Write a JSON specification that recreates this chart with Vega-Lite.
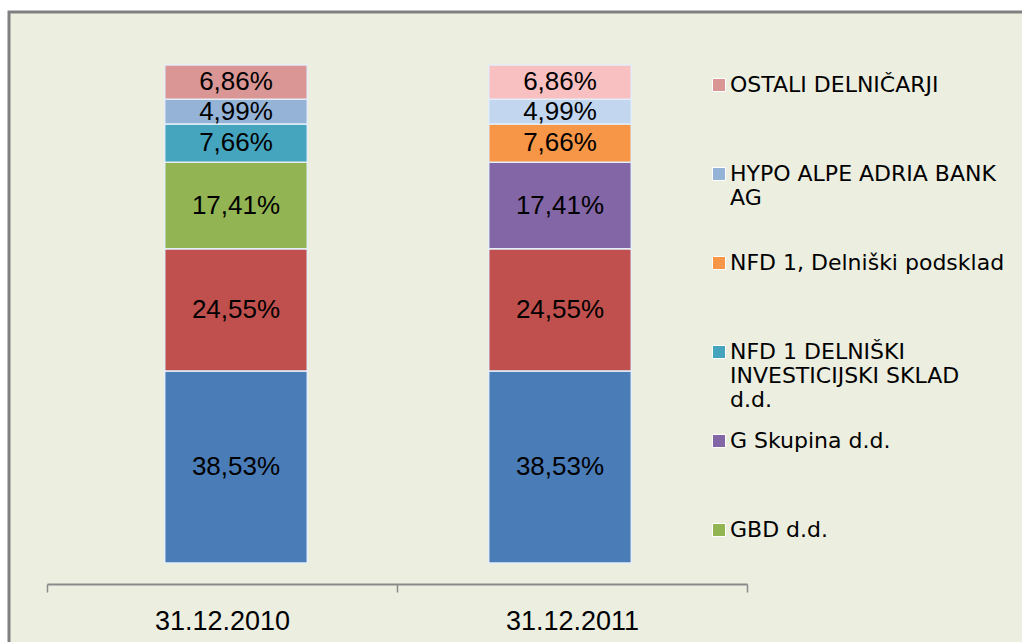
{
  "$schema": "https://vega.github.io/schema/vega-lite/v6.json",
  "width": 1020,
  "height": 640,
  "autosize": "none",
  "padding": {"left": 9, "top": 12, "right": 0, "bottom": 0},
  "background": "white",
  "config": {
    "view": {"fill": "#ECEEE0", "stroke": "#808080", "strokeWidth": 3}
  },
  "data": {
    "values": [
      {"datum": "31.12.2010", "delnicar": "Delničar A", "barva": "Delničar A", "delez": 38.53, "oznaka": "38,53%", "red": 1},
      {"datum": "31.12.2010", "delnicar": "Delničar B", "barva": "Delničar B", "delez": 24.55, "oznaka": "24,55%", "red": 2},
      {"datum": "31.12.2010", "delnicar": "GBD d.d.", "barva": "GBD d.d.", "delez": 17.41, "oznaka": "17,41%", "red": 3},
      {"datum": "31.12.2010", "delnicar": "NFD 1 DELNIŠKI INVESTICIJSKI SKLAD d.d.", "barva": "NFD 1 DELNIŠKI INVESTICIJSKI SKLAD d.d.", "delez": 7.66, "oznaka": "7,66%", "red": 4},
      {"datum": "31.12.2010", "delnicar": "HYPO ALPE ADRIA BANK AG", "barva": "HYPO ALPE ADRIA BANK AG", "delez": 4.99, "oznaka": "4,99%", "red": 5},
      {"datum": "31.12.2010", "delnicar": "OSTALI DELNIČARJI", "barva": "OSTALI DELNIČARJI", "delez": 6.86, "oznaka": "6,86%", "red": 6},
      {"datum": "31.12.2011", "delnicar": "Delničar A", "barva": "Delničar A", "delez": 38.53, "oznaka": "38,53%", "red": 1},
      {"datum": "31.12.2011", "delnicar": "Delničar B", "barva": "Delničar B", "delez": 24.55, "oznaka": "24,55%", "red": 2},
      {"datum": "31.12.2011", "delnicar": "G Skupina d.d.", "barva": "G Skupina d.d.", "delez": 17.41, "oznaka": "17,41%", "red": 3},
      {"datum": "31.12.2011", "delnicar": "NFD 1, Delniški podsklad", "barva": "NFD 1, Delniški podsklad", "delez": 7.66, "oznaka": "7,66%", "red": 4},
      {"datum": "31.12.2011", "delnicar": "HYPO ALPE ADRIA BANK AG", "barva": "HYPO ALPE ADRIA BANK AG 2011", "delez": 4.99, "oznaka": "4,99%", "red": 5},
      {"datum": "31.12.2011", "delnicar": "OSTALI DELNIČARJI", "barva": "OSTALI DELNIČARJI 2011", "delez": 6.86, "oznaka": "6,86%", "red": 6}
    ]
  },
  "layer": [
    {
      "encoding": {
        "x": {
          "field": "datum",
          "type": "nominal",
          "scale": {"range": [65, 713], "paddingInner": 0, "paddingOuter": 0},
          "axis": null
        },
        "y": {
          "field": "delez",
          "type": "quantitative",
          "stack": "zero",
          "scale": {"domain": [0, 100], "range": [551, 53], "nice": false},
          "axis": null
        },
        "order": {"field": "red", "type": "quantitative"}
      },
      "layer": [
        {
          "mark": {"type": "bar", "width": {"band": 0.44}, "stroke": "#E4EEF8", "strokeWidth": 1.5},
          "encoding": {
            "color": {
              "field": "barva",
              "type": "nominal",
              "scale": {
                "domain": ["Delničar A", "Delničar B", "GBD d.d.", "G Skupina d.d.", "NFD 1 DELNIŠKI INVESTICIJSKI SKLAD d.d.", "NFD 1, Delniški podsklad", "HYPO ALPE ADRIA BANK AG", "HYPO ALPE ADRIA BANK AG 2011", "OSTALI DELNIČARJI", "OSTALI DELNIČARJI 2011"],
                "range": ["#4A7CB8", "#C0504D", "#92B452", "#8366A6", "#45A4BE", "#F79646", "#95B3D7", "#C3D6F0", "#D99694", "#F8C0C0"]
              },
              "legend": {
                "title": null,
                "values": ["OSTALI DELNIČARJI", "HYPO ALPE ADRIA BANK AG", "NFD 1, Delniški podsklad", "NFD 1 DELNIŠKI INVESTICIJSKI SKLAD d.d.", "G Skupina d.d.", "GBD d.d."],
                "orient": "none",
                "legendX": 699,
                "legendY": 62,
                "padding": 0,
                "gridAlign": "all",
                "symbolType": "square",
                "symbolSize": 169,
                "symbolStrokeColor": "white",
                "symbolStrokeWidth": 1,
                "labelFont": "DejaVu Sans",
                "labelFontSize": 22,
                "labelColor": "black",
                "labelOffset": 0,
                "labelLimit": 400,
                "rowPadding": 19,
                "labelExpr": "datum.label == 'HYPO ALPE ADRIA BANK AG' ? ['HYPO ALPE ADRIA BANK', 'AG'] : datum.label == 'NFD 1 DELNIŠKI INVESTICIJSKI SKLAD d.d.' ? ['NFD 1 DELNIŠKI', 'INVESTICIJSKI SKLAD', 'd.d.'] : datum.label"
              }
            }
          }
        },
        {
          "mark": {"type": "text", "font": "Liberation Sans", "fontSize": 26, "color": "black"},
          "encoding": {
            "y": {"field": "delez", "type": "quantitative", "stack": "zero", "bandPosition": 0.5},
            "detail": {"field": "barva"},
            "text": {"field": "oznaka"}
          }
        }
      ]
    },
    {
      "mark": {"type": "point", "opacity": 0},
      "encoding": {
        "x": {
          "field": "datum",
          "type": "nominal",
          "scale": {"range": [38, 738], "paddingInner": 0, "paddingOuter": 0},
          "axis": {
            "title": null,
            "orient": "bottom",
            "offset": -68,
            "labelAngle": 0,
            "domainColor": "#8A8A8A",
            "domainWidth": 2,
            "tickColor": "#8A8A8A",
            "tickWidth": 1.5,
            "tickSize": 8,
            "tickBand": "extent",
            "labelFont": "Liberation Sans",
            "labelFontSize": 27,
            "labelColor": "black",
            "labelPadding": 16
          }
        }
      }
    }
  ],
  "resolve": {"scale": {"x": "independent"}}
}
